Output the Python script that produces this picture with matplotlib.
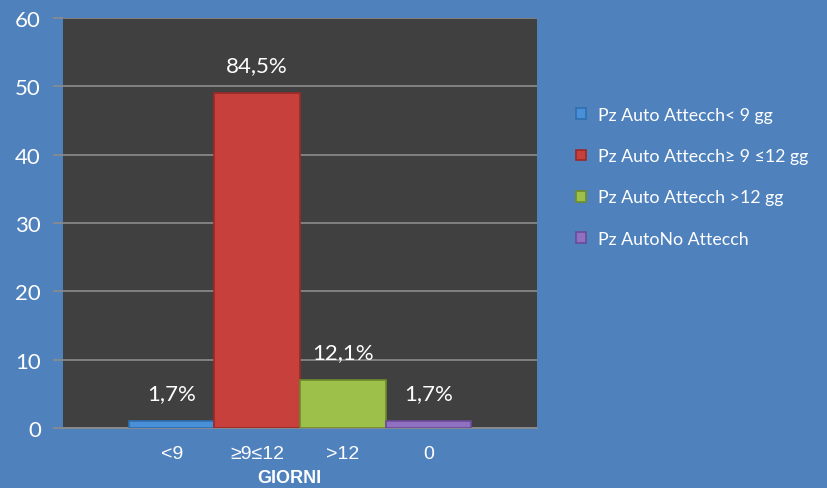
import matplotlib
matplotlib.use('Agg')
import matplotlib.pyplot as plt
import numpy as np

categories = ['<9', '≥9≤12', '>12', '0']
counts = [1, 49, 7, 1]
pct_labels = ['1,7%', '84,5%', '12,1%', '1,7%']
series_names = ['Pz Auto Attecch< 9 gg', 'Pz Auto Attecch≥ 9 ≤12 gg',
                'Pz Auto Attecch >12 gg', 'Pz AutoNo Attecch']
bar_colors = ['#4a90d9', '#c8403c', '#9cc04a', '#9070c0']
edge_colors = ['#2f6fb0', '#9a2a28', '#6e8c2a', '#6a4c98']

bg = '#4f81bd'
fig = plt.figure(figsize=(8.27, 4.89), dpi=100, facecolor=bg)
ax = fig.add_axes([63 / 827, 1 - 429 / 489, 474 / 827, 410 / 489])
ax.set_facecolor('#404040')

x = np.arange(len(categories))
for i in range(len(categories)):
    ax.bar(x[i], counts[i], width=1.0, color=bar_colors[i], edgecolor=edge_colors[i],
           linewidth=1.2, label=series_names[i], zorder=3)
    ax.annotate(pct_labels[i], (x[i], counts[i]), xytext=(0, 20), textcoords='offset points',
                ha='center', va='center', color='white', fontsize=16, family='Lato', zorder=4)

ax.set_ylim(0, 60)
ax.set_xlim(-1.27, 4.27)
ax.set_yticks(range(0, 61, 10))
ax.yaxis.grid(True, color='#8c8c8c', linewidth=1.2, zorder=0)
ax.set_axisbelow(True)
ax.tick_params(axis='y', colors='#8c8c8c', labelcolor='white', labelsize=16, length=7, width=1.2, pad=9)
for t in ax.get_yticklabels():
    t.set_family('Lato')
ax.set_xticks(x)
ax.set_xticklabels(categories, color='white', fontsize=14, family='Liberation Sans')
ax.tick_params(axis='x', length=0, pad=12)
for s in ['top', 'right', 'left']:
    ax.spines[s].set_visible(False)
ax.spines['bottom'].set_color('#8c8c8c')
ax.spines['bottom'].set_linewidth(1.2)
ax.set_xlabel('GIORNI', color='white', fontsize=13, fontweight='bold', family='Liberation Sans', labelpad=0)
ax.xaxis.set_label_coords(0.478, -0.1)

leg = fig.legend(loc='upper left', bbox_to_anchor=(560 / 827, 1 - 92 / 489), frameon=False,
                 labelcolor='white', prop={'family': 'Lato', 'size': 12.8}, handlelength=0.55,
                 handleheight=0.55, labelspacing=1.42, handletextpad=0.7)

fig.savefig('out.png', dpi=100, facecolor=bg)
